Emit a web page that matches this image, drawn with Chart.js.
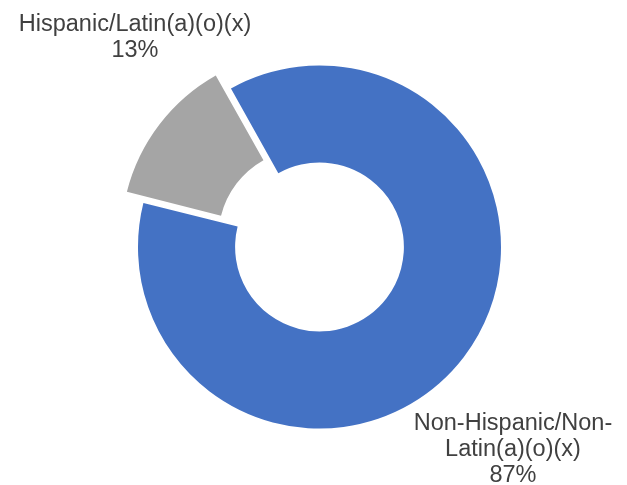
<!DOCTYPE html>
<html>
<head>
<meta charset="utf-8">
<script src="https://cdn.jsdelivr.net/npm/chart.js@4"></script>
<style>
  html, body { margin: 0; padding: 0; background: #fff; }
  #wrap { width: 627px; height: 485px; }
</style>
</head>
<body>
<div id="wrap"><canvas id="ethnicityChart" width="627" height="485"></canvas></div>
<script>
// data
const categories = ["Non-Hispanic/Non-Latin(a)(o)(x)", "Hispanic/Latin(a)(o)(x)"];
const labelLines = [["Non-Hispanic/Non-", "Latin(a)(o)(x)"], ["Hispanic/Latin(a)(o)(x)"]];
const percentages = [87, 13];

const sliceColors = ["#4472C4", "#A5A5A5"];

// draws the Excel style data labels next to the ring
const sliceLabels = {
  id: "sliceLabels",
  afterDatasetsDraw(chart, args, opts) {
    const ctx = chart.ctx;
    const arcs = chart.getDatasetMeta(0).data;
    ctx.save();
    ctx.font = opts.font;
    ctx.fillStyle = opts.color;
    ctx.textAlign = "center";
    ctx.textBaseline = "alphabetic";
    arcs.forEach((arc, i) => {
      const lines = labelLines[i].concat([percentages[i] + "%"]);
      const [dx, dy] = opts.anchors[i];
      lines.forEach((line, j) => {
        ctx.fillText(line, arc.x + dx, arc.y + dy + j * opts.lineHeight);
      });
    });
    ctx.restore();
  },
};

const ctx = document.getElementById("ethnicityChart").getContext("2d");
new Chart(ctx, {
  type: "doughnut",
  data: {
    labels: categories,
    datasets: [
      {
        data: percentages,
        backgroundColor: sliceColors,
        borderWidth: 0,
        offset: [0, 63], // pulls the grey slice out
      },
    ],
  },
  options: {
    responsive: false,
    animation: false,
    events: [],
    rotation: -29.2,
    radius: 181.5,
    cutout: "46.5%",
    layout: { padding: { left: 12, top: 9, right: 0, bottom: 0 } },
    plugins: {
      legend: { display: false },
      tooltip: { enabled: false },
      sliceLabels: {
        font: "23.5px 'Liberation Sans', Arial, sans-serif",
        color: "#404040",
        lineHeight: 26,
        anchors: [
          [193.5, 183],
          [-184.5, -216],
        ],
      },
    },
  },
  plugins: [sliceLabels],
});
</script>
</body>
</html>
